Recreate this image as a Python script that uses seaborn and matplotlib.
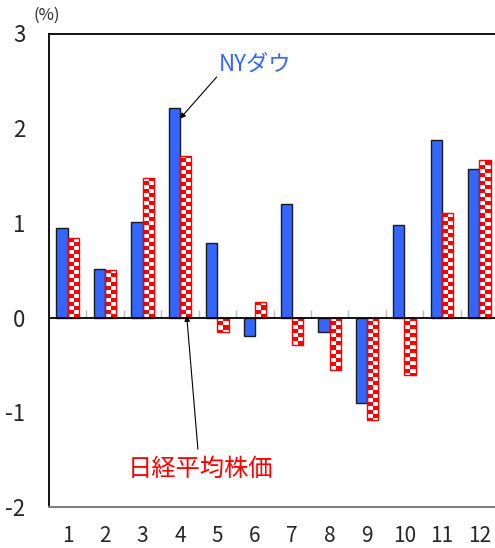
import numpy as np
import pandas as pd
import matplotlib
matplotlib.use("Agg")
import matplotlib.pyplot as plt
import seaborn as sns
from matplotlib.colors import ListedColormap

# === Datos (variación mensual, %) ===
months = [str(m) for m in range(1, 13)]
nydow = [0.95, 0.51, 1.01, 2.21, 0.79, -0.19, 1.20, -0.15, -0.90, 0.98, 1.88, 1.57]
nikkei = [0.84, 0.50, 1.47, 1.71, -0.15, 0.16, -0.29, -0.55, -1.08, -0.61, 1.10, 1.66]
series_names = ["NYダウ", "日経平均株価"]
yticks = [-2, -1, 0, 1, 2, 3]

df = pd.DataFrame({
    "month": months * 2,
    "value": nydow + nikkei,
    "series": [series_names[0]] * len(months) + [series_names[1]] * len(months),
})

sns.set_style("white")
plt.rcParams["font.family"] = ["Noto Sans CJK JP", "DejaVu Sans"]
plt.rcParams["axes.unicode_minus"] = False

fig = plt.figure(figsize=(4.95, 5.48), dpi=100)
ax = fig.add_axes([49 / 495, 41 / 548, 449 / 495, 473.5 / 548])

sns.barplot(data=df, x="month", y="value", hue="series", order=months,
            hue_order=series_names,
            palette={series_names[0]: "#3366FF", series_names[1]: "white"},
            width=0.6, saturation=1, legend=False, ax=ax)

ax.set_xlim(-0.5, len(months) - 0.5)
ax.set_ylim(yticks[0], yticks[-1])

# barras azules
for bar in ax.containers[0]:
    bar.set_edgecolor("#1a1a1a")
    bar.set_linewidth(1)
    bar.set_zorder(3)

# barras rojas con patrón de cuadros
px_per_y = ax.bbox.height / (yticks[-1] - yticks[0])
sq_y = 4 / px_per_y
cmap = ListedColormap(["white", "red"])
for bar in ax.containers[1]:
    bar.set_facecolor("none")
    bar.set_edgecolor("red")
    bar.set_linewidth(1)
    bar.set_zorder(3)
    x0, w, h = bar.get_x(), bar.get_width(), bar.get_height()
    nrows = int(np.ceil(abs(h) / sq_y)) + 1
    grid = np.add.outer(np.arange(nrows), np.arange(2)) % 2
    if h >= 0:
        extent = [x0, x0 + w, 0, nrows * sq_y]
    else:
        extent = [x0, x0 + w, -nrows * sq_y, 0]
        grid = grid[::-1]
    im = ax.imshow(grid, cmap=cmap, extent=extent, origin="lower", aspect="auto",
                   interpolation="nearest", zorder=2.9)
    im.set_clip_path(bar)

ax.set_xlim(-0.5, len(months) - 0.5)
ax.set_ylim(yticks[0], yticks[-1])

# línea cero y marcas entre meses
ax.axhline(0, color="black", lw=1.3, zorder=4)
bounds = np.arange(len(months) - 1) + 0.5
ax.vlines(bounds, 0, 8 / px_per_y, colors="#bbbbbb", lw=1, zorder=1.5)

ax.set_yticks(yticks)
ax.set_xlabel("")
ax.set_ylabel("")
ax.tick_params(axis="y", direction="in", length=7, width=1, color="#b0b0b0",
               pad=17, labelsize=16)
ax.tick_params(axis="x", length=0, pad=13, labelsize=15)

for side in ["left", "top"]:
    ax.spines[side].set_color("black")
    ax.spines[side].set_linewidth(1.3)
ax.spines["bottom"].set_color("#808080")
ax.spines["bottom"].set_linewidth(1.5)
ax.spines["right"].set_visible(False)

# anotaciones
arrow = dict(arrowstyle="-|>", color="black", lw=0.8, mutation_scale=8,
             shrinkA=0, shrinkB=0)
ax.text(5.01, 2.68, series_names[0], color="#3366FF", fontsize=16,
        ha="center", va="center")
ax.annotate("", xy=(3.0, nydow[3] - 0.11), xytext=(3.98, 2.54), arrowprops=arrow)
ax.text(3.56, -1.60, series_names[1], color="red", fontsize=17.5,
        ha="center", va="center")
ax.annotate("", xy=(3.18, 0.02), xytext=(3.48, -1.39), arrowprops=arrow)

fig.text(47 / 495, 1 - 15 / 548, "(%)", fontsize=12, ha="center", va="center")

fig.savefig("out.png", dpi=100)
